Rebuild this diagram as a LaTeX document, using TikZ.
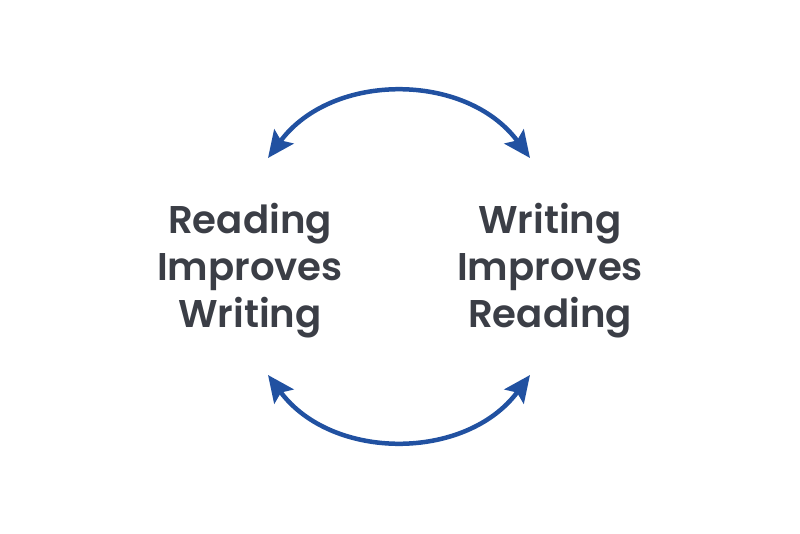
\documentclass[tikz,border=0pt]{standalone}
\usepackage{fontspec}
\setmainfont{Poppins}[BoldFont={Poppins SemiBold}]
\usetikzlibrary{positioning, arrows.meta}
\definecolor{textgray}{HTML}{3B3E46}
\definecolor{arcblue}{HTML}{2151A1}

\begin{document}
\begin{tikzpicture}[
		claim/.style={align=center, text=textgray, font=\fontsize{27.5}{33.5}\selectfont\bfseries, inner sep=0pt},
		cycle/.style={draw=arcblue, line width=3.2pt, {Stealth[length=19pt, width=17pt, inset=3.5pt]}-{Stealth[length=19pt, width=17pt, inset=3.5pt]}, looseness=1.05},
	]
	\useasboundingbox (0, 0) rectangle (20, 13.325);
	\node[claim] (reading) at (6.25, 6.55) {Reading\\Improves\\Writing};
	\node[claim] (writing) at (13.75, 6.55) {Writing\\Improves\\Reading};

	\coordinate (top_left) at (6.7, 9.375);
	\coordinate (top_right) at (13.25, 9.375);
	\coordinate (bottom_left) at (6.7, 3.95);
	\coordinate (bottom_right) at (13.25, 3.95);

	\draw[cycle] (top_left) to[out=53.5, in=126.5] (top_right);
	\draw[cycle] (bottom_left) to[out=-53.5, in=-126.5] (bottom_right);
\end{tikzpicture}
\end{document}
